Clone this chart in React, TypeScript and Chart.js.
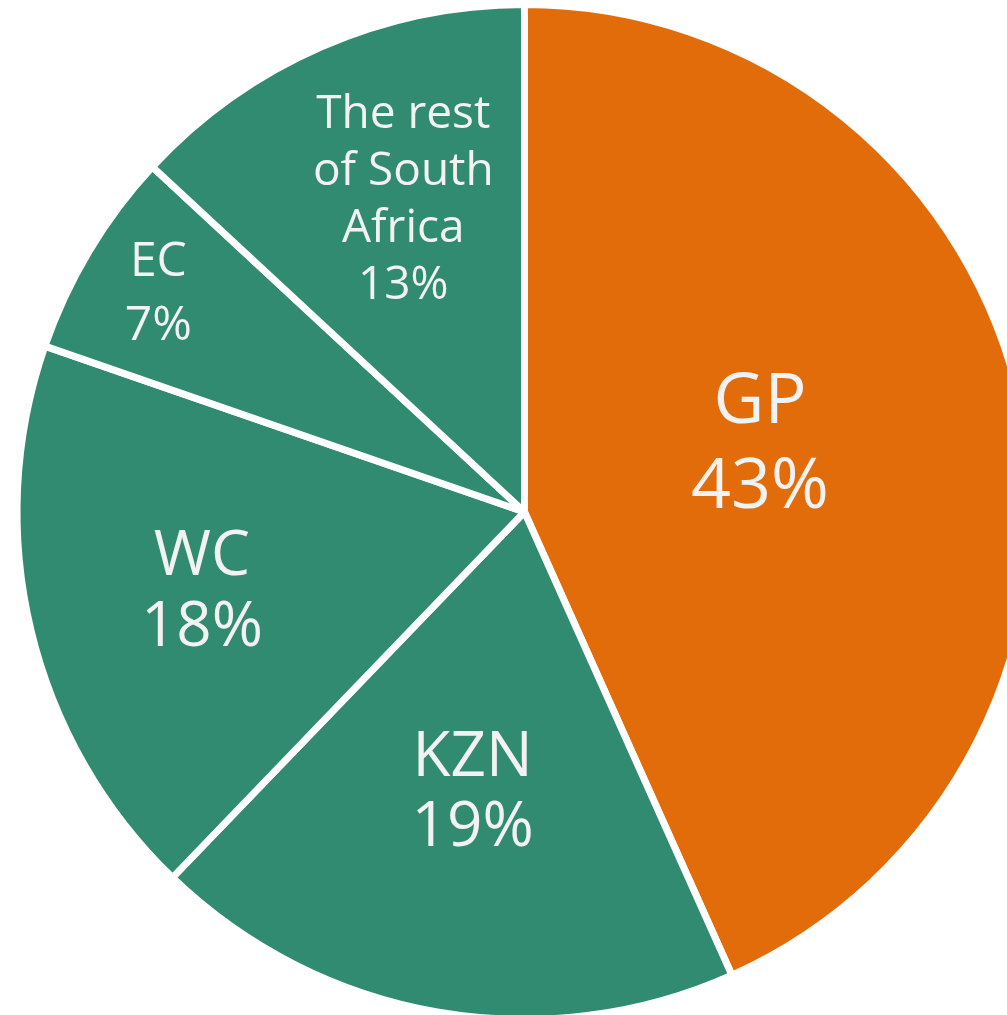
import React, { useEffect, useRef } from "react";
import { Chart, registerables } from "chart.js";

Chart.register(...registerables);

const categories = ["GP", "KZN", "WC", "EC", "The rest of South Africa"];
const shares = [43.3, 18.9, 18.1, 6.6, 13.1];
const labelLines = [["GP"], ["KZN"], ["WC"], ["EC"], ["The rest", "of South", "Africa"]];
const sliceColors = ["#E36C0A", "#318B70", "#318B70", "#318B70", "#318B70"];

// label placement (radial fraction, angle offset in degrees, font size, line spacing)
const labelPlacement = [
  { f: 0.485, dAng: -4.85, size: 70, lh: 85 },
  { f: 0.556, dAng: 0.7, size: 62, lh: 70 },
  { f: 0.653, dAng: 0.2, size: 62, lh: 71 },
  { f: 0.843, dAng: 0.2, size: 48, lh: 64 },
  { f: 0.664, dAng: 2.5, size: 46, lh: 57 },
];

const FONT = '"Open Sans", "Noto Sans", sans-serif';

const labelPlugin = {
  id: "sliceLabels",
  afterDatasetsDraw(chart: any) {
    const ctx = chart.ctx;
    const meta = chart.getDatasetMeta(0);
    ctx.save();
    ctx.fillStyle = "#F2F2F2";
    ctx.textAlign = "center";
    ctx.textBaseline = "alphabetic";
    meta.data.forEach((arc: any, i: number) => {
      const p = arc.getProps(["x", "y", "startAngle", "endAngle", "outerRadius"], true);
      const pl = labelPlacement[i];
      const mid = (p.startAngle + p.endAngle) / 2 + (pl.dAng * Math.PI) / 180;
      const r = p.outerRadius * pl.f;
      const cx = p.x + Math.cos(mid) * r;
      const cy = p.y + Math.sin(mid) * r;
      const lines = [...labelLines[i], Math.round(shares[i]) + "%"];
      const cap = pl.size * 0.714;
      const n = lines.length;
      ctx.font = `${pl.size}px ${FONT}`;
      lines.forEach((t, k) => {
        const by = cy - ((n - 1) * pl.lh) / 2 + k * pl.lh + cap / 2;
        ctx.fillText(t, cx, by);
      });
    });
    ctx.restore();
  },
};

export default function App() {
  const ref = useRef<HTMLCanvasElement>(null);
  useEffect(() => {
    if (!ref.current) return;
    const chart = new Chart(ref.current, {
      type: "pie",
      data: {
        labels: categories,
        datasets: [
          {
            data: shares,
            backgroundColor: sliceColors,
            borderColor: "#FFFFFF",
            borderWidth: 7,
          },
        ],
      },
      options: {
        responsive: false,
        animation: false,
        layout: { padding: 0 },
        plugins: {
          legend: { display: false },
          tooltip: { enabled: false },
        },
      },
      plugins: [labelPlugin],
    });
    return () => chart.destroy();
  }, []);
  return (
    <div
      style={{
        position: "absolute",
        left: 0,
        top: 0,
        width: 1007,
        height: 1015,
        overflow: "hidden",
        background: "#FFFFFF",
      }}
    >
      <canvas
        ref={ref}
        width={1049}
        height={1022}
        style={{ position: "absolute", left: 0, top: 1, width: 1049, height: 1022 }}
      />
    </div>
  );
}
